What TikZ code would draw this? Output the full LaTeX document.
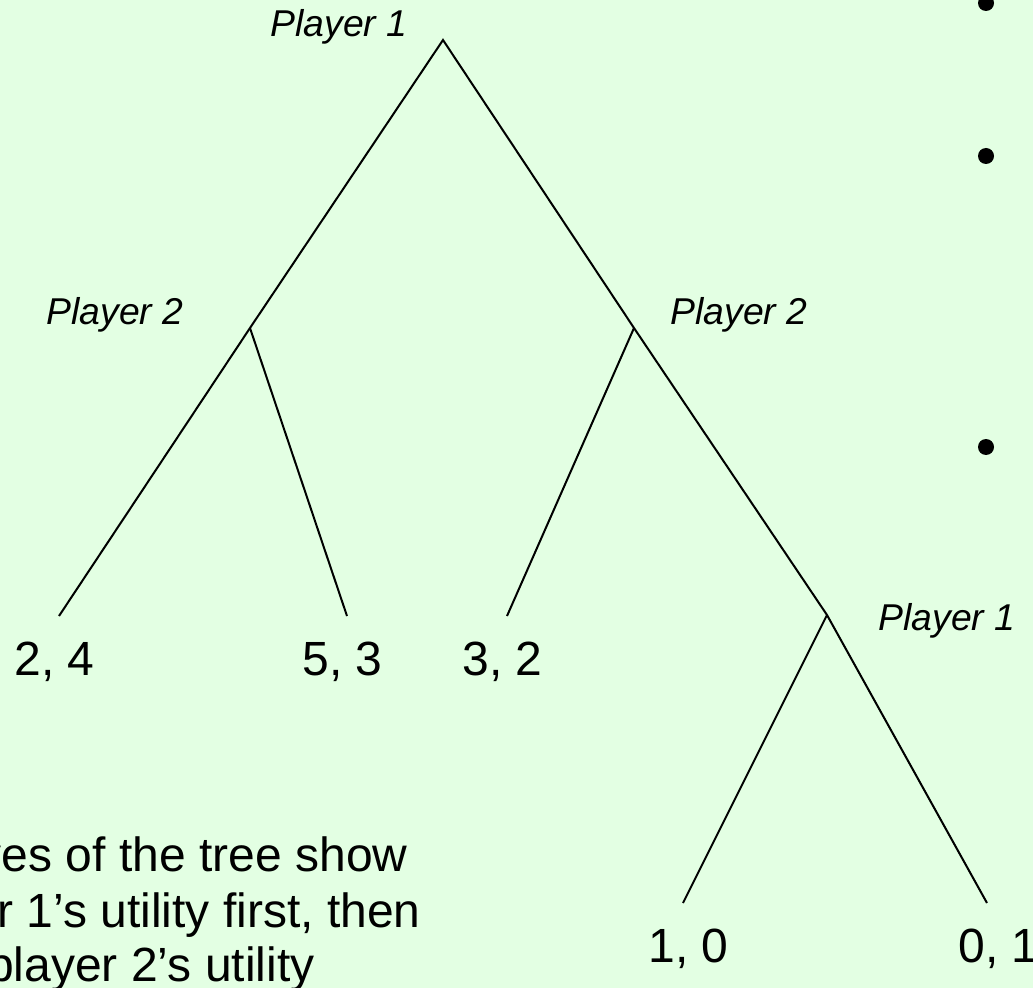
\documentclass[tikz,border=0pt]{standalone}
\usepackage{fontspec}
\setmainfont{Liberation Sans}
\definecolor{paleGreen}{RGB}{227,255,227}

\tikzset{every picture/.style={line width=0.75pt}}
\tikzset{
  branch/.style={line width=1.5pt},
  player/.style={anchor=base west,inner sep=0pt,font=\fontsize{28}{34}\selectfont\itshape},
  payoff/.style={anchor=base west,inner sep=0pt,font=\fontsize{36}{43}\selectfont},
  note/.style={anchor=base east,inner sep=0pt,font=\fontsize{36}{43}\selectfont},
  bulletdot/.style={circle,fill=black,inner sep=0pt,minimum size=12pt}
}

\begin{document}
\begin{tikzpicture}[x=0.75pt,y=0.75pt,yscale=-1,xscale=1]
%set diagram left start at 0, size 1033 x 988
\useasboundingbox (0,0) rectangle (1033,988);
\fill [paleGreen] (0,0) rectangle (1033,988);
\clip (0,0) rectangle (1033,988);

%Tree vertices
\coordinate (root) at (443,40);
\coordinate (leftP2) at (250,328);
\coordinate (rightP2) at (634,328);
\coordinate (lowP1) at (827,615);
\coordinate (leafA) at (59,616);
\coordinate (leafB) at (347,616);
\coordinate (leafC) at (507,616);
\coordinate (leafD) at (683,903);
\coordinate (leafE) at (987,903);

%Straight Lines
\draw [branch] (leafA) -- (leftP2) -- (root) -- (rightP2) -- (lowP1) -- (leafE) ;
\draw [branch] (leftP2) -- (leafB) ;
\draw [branch] (rightP2) -- (leafC) ;
\draw [branch] (lowP1) -- (leafD) ;

% Text Node
\node [player] (pTop) at (270,37) {Player 1};
% Text Node
\node [player] (pLeft) at (46,325) {Player 2};
% Text Node
\node [player] (pRight) at (670,325) {Player 2};
% Text Node
\node [player] (pLow) at (878,630) {Player 1};

% Text Node
\node [payoff] (uA) at (14,675) {2, 4};
% Text Node
\node [payoff] (uB) at (302,675) {5, 3};
% Text Node
\node [payoff] (uC) at (462,675) {3, 2};
% Text Node
\node [payoff] (uD) at (648,962) {1, 0};
% Text Node
\node [payoff] (uE) at (958,962) {0, 1};

% Text Node
\node [note] (noteA) at (408,871) {ves of the tree show};
% Text Node
\node [note] (noteB) at (421,927) {r 1’s utility first, then};
% Text Node
\node [note] (noteC) at (315,981) {player 2’s utility};

%Bullets
\node [bulletdot] (dotA) at (986,3) {};
\node [bulletdot] (dotB) at (986,156) {};
\node [bulletdot] (dotC) at (986,447) {};

\end{tikzpicture}
\end{document}
